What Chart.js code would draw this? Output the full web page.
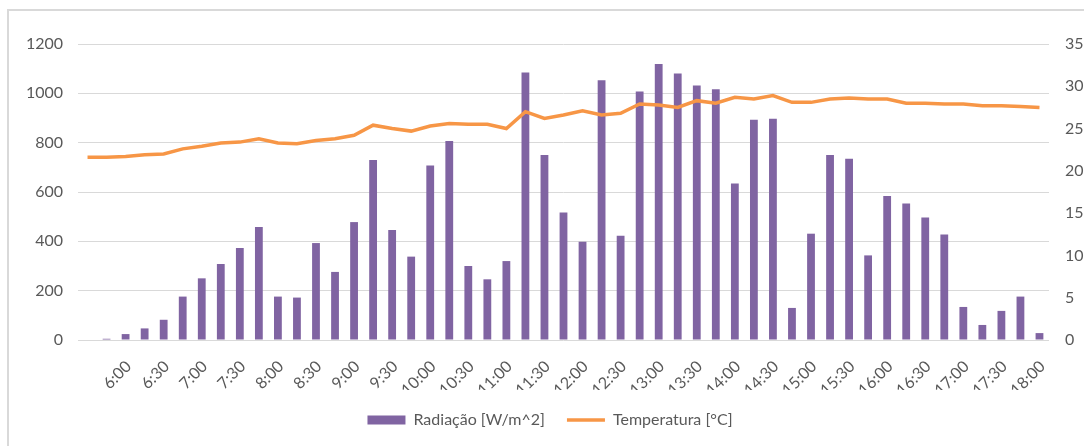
<!DOCTYPE html>
<html>
<head>
<meta charset="utf-8">
<script src="https://cdn.jsdelivr.net/npm/chart.js@4/dist/chart.umd.min.js"></script>
<style>
  html, body { margin: 0; padding: 0; background: #ffffff; }
  #wrap { position: relative; width: 1084px; height: 446px; }
</style>
</head>
<body>
<div id="wrap"><canvas id="grafico" width="1084" height="446"></canvas></div>
<script>
// Horários de medição (intervalos de 15 minutos)
const horarios = [
  '5:30', '5:45', '6:00', '6:15', '6:30', '6:45', '7:00', '7:15', '7:30', '7:45',
  '8:00', '8:15', '8:30', '8:45', '9:00', '9:15', '9:30', '9:45', '10:00', '10:15',
  '10:30', '10:45', '11:00', '11:15', '11:30', '11:45', '12:00', '12:15', '12:30', '12:45',
  '13:00', '13:15', '13:30', '13:45', '14:00', '14:15', '14:30', '14:45', '15:00', '15:15',
  '15:30', '15:45', '16:00', '16:15', '16:30', '16:45', '17:00', '17:15', '17:30', '17:45',
  '18:00'
];

// Radiação solar [W/m^2]
const radiacao = [
  null, 5, 24, 47, 82, 176, 250, 308, 373, 458,
  176, 172, 393, 276, 478, 730, 446, 338, 707, 807,
  300, 246, 320, 1084, 750, 517, 398, 1053, 423, 1007,
  1119, 1080, 1032, 1017, 634, 893, 897, 130, 431, 750,
  735, 343, 584, 553, 497, 428, 134, 61, 118, 176,
  28
];

// Temperatura do ar [°C]
const temperatura = [
  21.6, 21.6, 21.7, 21.9, 22.0, 22.6, 22.9, 23.3, 23.4, 23.8,
  23.3, 23.2, 23.6, 23.8, 24.2, 25.4, 25.0, 24.7, 25.3, 25.6,
  25.5, 25.5, 25.0, 27.0, 26.2, 26.6, 27.1, 26.6, 26.8, 27.9,
  27.8, 27.5, 28.3, 28.0, 28.7, 28.5, 28.9, 28.1, 28.1, 28.5,
  28.6, 28.5, 28.5, 28.0, 28.0, 27.9, 27.9, 27.7, 27.7, 27.6,
  27.5
];

// Marcas dos eixos
const ticksRadiacao = [0, 200, 400, 600, 800, 1000, 1200];
const ticksTemperatura = [0, 5, 10, 15, 20, 25, 30, 35];

const ROXO = '#8064A2';
const LARANJA = '#F79646';
const CINZA_TEXTO = '#595959';
const CINZA_GRADE = '#D9D9D9';
const FONTE = 'Lato, "Open Sans", sans-serif';

// Moldura cinza do gráfico
const moldura = {
  id: 'moldura',
  beforeDraw(chart) {
    const ctx = chart.ctx;
    ctx.save();
    ctx.strokeStyle = CINZA_GRADE;
    ctx.lineWidth = 2;
    ctx.beginPath();
    ctx.moveTo(8, chart.height);
    ctx.lineTo(8, 10);
    ctx.lineTo(chart.width, 10);
    ctx.stroke();
    ctx.restore();
  }
};

new Chart(document.getElementById('grafico'), {
  type: 'bar',
  data: {
    labels: horarios,
    datasets: [
      {
        type: 'line',
        label: 'Temperatura [°C]',
        data: temperatura,
        yAxisID: 'yTemp',
        borderColor: LARANJA,
        backgroundColor: LARANJA,
        borderWidth: 3.5,
        pointRadius: 0,
        tension: 0,
        order: 0
      },
      {
        type: 'bar',
        label: 'Radiação [W/m^2]',
        data: radiacao,
        yAxisID: 'yRad',
        backgroundColor: ROXO,
        borderWidth: 0,
        barPercentage: 0.41,
        categoryPercentage: 1.0,
        order: 1
      }
    ]
  },
  options: {
    responsive: false,
    animation: false,
    layout: { padding: { left: 16, right: 0, top: 44, bottom: 8 } },
    plugins: {
      tooltip: { enabled: false },
      legend: {
        position: 'bottom',
        labels: {
          font: { family: FONTE, size: 16 },
          color: CINZA_TEXTO,
          usePointStyle: true,
          pointStyleWidth: 38,
          boxHeight: 9,
          padding: 22,
          generateLabels(chart) {
            const ds = chart.data.datasets;
            return [
              { text: ds[1].label, datasetIndex: 1, pointStyle: 'rect', fillStyle: ROXO, strokeStyle: ROXO, lineWidth: 0, fontColor: CINZA_TEXTO },
              { text: ds[0].label, datasetIndex: 0, pointStyle: 'line', fillStyle: LARANJA, strokeStyle: LARANJA, lineWidth: 3.5, fontColor: CINZA_TEXTO }
            ];
          }
        }
      }
    },
    scales: {
      x: {
        grid: { display: false, drawTicks: false },
        border: { display: false },
        ticks: {
          autoSkip: false,
          maxRotation: 45,
          minRotation: 45,
          padding: 17,
          labelOffset: 3,
          color: CINZA_TEXTO,
          font: { family: FONTE, size: 16 },
          callback(value, index) {
            return (index > 0 && index % 2 === 0) ? horarios[index] : '';
          }
        },
        afterFit(scale) { scale.height = 50; }
      },
      yRad: {
        position: 'left',
        min: 0,
        max: 1200,
        afterBuildTicks(scale) { scale.ticks = ticksRadiacao.map(v => ({ value: v })); },
        grid: { color: CINZA_GRADE, lineWidth: 1, drawTicks: false },
        border: { display: false },
        ticks: {
          padding: 15,
          color: CINZA_TEXTO,
          font: { family: FONTE, size: 16 },
          callback(value) { return String(value); }
        },
        afterFit(scale) { scale.width = 62; }
      },
      yTemp: {
        position: 'right',
        min: 0,
        max: 35,
        afterBuildTicks(scale) { scale.ticks = ticksTemperatura.map(v => ({ value: v })); },
        grid: { display: false, drawTicks: false },
        border: { display: false },
        ticks: {
          padding: 16,
          color: CINZA_TEXTO,
          font: { family: FONTE, size: 16 },
          callback(value) { return String(value); }
        },
        afterFit(scale) { scale.width = 35; }
      }
    }
  },
  plugins: [moldura]
});
</script>
</body>
</html>
